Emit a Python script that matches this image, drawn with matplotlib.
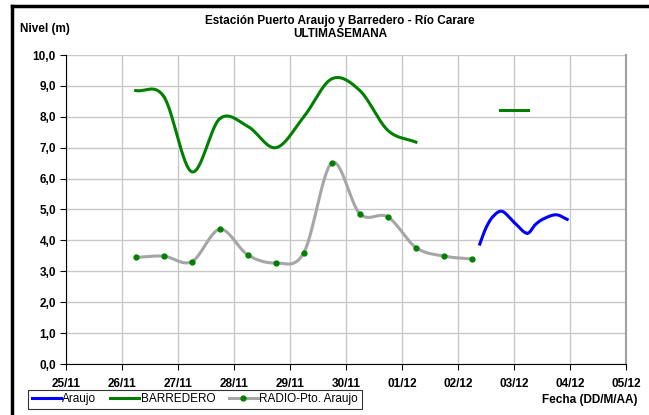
import numpy as np
import matplotlib
matplotlib.use('Agg')
import matplotlib.pyplot as plt
from matplotlib.lines import Line2D

plt.rcParams['font.family'] = ['Liberation Sans', 'DejaVu Sans']

# days counted from 25/11 00:00
x_labels = ['25/11', '26/11', '27/11', '28/11', '29/11', '30/11',
            '01/12', '02/12', '03/12', '04/12', '05/12']

barredero_t = [1.25, 1.75, 2.25, 2.75, 3.25, 3.75, 4.25, 4.75, 5.25, 5.75, 6.25]
barredero_y = [8.85, 8.66, 6.22, 7.94, 7.69, 7.00, 8.00, 9.23, 8.85, 7.56, 7.18]

barredero2_t = [7.75, 8.25]
barredero2_y = [8.21, 8.21]

radio_t = [1.25, 1.75, 2.25, 2.75, 3.25, 3.75, 4.25, 4.75, 5.25, 5.75, 6.25, 6.75, 7.25]
radio_y = [3.45, 3.49, 3.31, 4.36, 3.53, 3.27, 3.60, 6.51, 4.86, 4.76, 3.77, 3.49, 3.40]

araujo_t = [7.39, 7.5, 7.625, 7.79, 8.0, 8.23, 8.375, 8.52, 8.75, 8.95]
araujo_y = [3.88, 4.40, 4.77, 4.94, 4.59, 4.23, 4.50, 4.69, 4.83, 4.68]


def smooth(t, y, n=30):
    # Catmull-Rom, close to the Excel "smoothed line"
    p = np.column_stack([t, y])
    p = np.vstack([p[0] - (p[1] - p[0]), p, p[-1] + (p[-1] - p[-2])])
    out = []
    s = np.linspace(0, 1, n)[:, None]
    for i in range(1, len(p) - 2):
        p0, p1, p2, p3 = p[i - 1], p[i], p[i + 1], p[i + 2]
        c = 0.5 * ((2 * p1) + (-p0 + p2) * s + (2 * p0 - 5 * p1 + 4 * p2 - p3) * s ** 2
                   + (-p0 + 3 * p1 - 3 * p2 + p3) * s ** 3)
        out.append(c)
    c = np.vstack(out)
    return c[:, 0], c[:, 1]


fig = plt.figure(figsize=(6.49, 4.15), dpi=100)
ax = fig.add_axes([65.7 / 649, 51 / 415, (626 - 65.7) / 649, (364 - 55) / 415])

ax.plot(*smooth(barredero_t, barredero_y), color='#008000', lw=2.2)
ax.plot(barredero2_t, barredero2_y, color='#008000', lw=2.2)
ax.plot(*smooth(radio_t, radio_y), color='#a6a6a6', lw=2.2)
ax.plot(radio_t, radio_y, ls='none', marker='o', ms=3.5, color='#008000')
ax.plot(*smooth(araujo_t, araujo_y), color='#0000ff', lw=2.2)

ax.set_xlim(0, 10)
ax.set_ylim(0, 10)
ax.set_xticks(range(11))
ax.set_xticklabels(x_labels, fontsize=8.5, fontweight='bold')
ax.set_yticks(range(11))
ax.set_yticklabels([f'{v},0' for v in range(11)], fontsize=8.5, fontweight='bold')
ax.grid(True, color='#c8c8c8', lw=1)
ax.set_axisbelow(True)
ax.spines['right'].set_color('#a0a0a0')
ax.spines['right'].set_linewidth(1.5)
ax.spines['top'].set_visible(False)
ax.tick_params(direction='out', length=4, width=0.8, pad=3)
ax.tick_params(axis='x', pad=6)

fig.text(0.524, 1 - 21 / 415, 'Estación Puerto Araujo y Barredero - Río Carare',
         ha='center', va='center', fontsize=8.5, fontweight='bold')
fig.text(0.524, 1 - 34 / 415, 'ULTIMASEMANA', ha='center', va='center',
         fontsize=8.5, fontweight='bold')
fig.text(20 / 649, 1 - 29 / 415, 'Nivel (m)', ha='left', va='center',
         fontsize=8.5, fontweight='bold')
fig.text(638 / 649, 1 - 400 / 415, 'Fecha (DD/M/AA)', ha='right', va='center',
         fontsize=8.5, fontweight='bold')

handles = [Line2D([], [], color='#0000ff', lw=2.2),
           Line2D([], [], color='#008000', lw=2.2),
           Line2D([], [], color='#a6a6a6', lw=2.2, marker='o', ms=3.5,
                  mfc='#008000', mec='#008000')]
leg = fig.legend(handles, ['Araujo', 'BARREDERO', 'RADIO-Pto. Araujo'],
                 loc='lower left', bbox_to_anchor=(28 / 649, 6 / 415), ncol=3,
                 fontsize=8.5, frameon=True, fancybox=False, handlelength=2.5,
                 handletextpad=0.1, columnspacing=1.15, borderpad=0.3,
                 borderaxespad=0)
leg.get_frame().set_edgecolor('black')
leg.get_frame().set_linewidth(0.8)

# outer frame: top and left black lines
fig.add_artist(Line2D([12 / 649, 1], [1 - 6 / 415, 1 - 6 / 415],
                      transform=fig.transFigure, color='black', lw=2.5))
fig.add_artist(Line2D([12 / 649, 12 / 649], [0, 1 - 6 / 415],
                      transform=fig.transFigure, color='black', lw=2.5))

fig.savefig('out.png', dpi=100)
